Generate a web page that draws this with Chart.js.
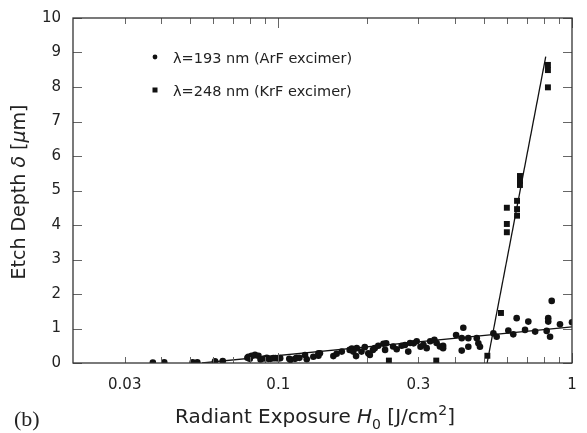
<!DOCTYPE html>
<html><head><meta charset="utf-8">
<script src="https://cdn.jsdelivr.net/npm/chart.js@4.4.0/dist/chart.umd.min.js"></script>
<style>html,body{margin:0;padding:0;background:#fff;}#wrap{width:587px;height:433px;position:relative}</style>
</head><body><div id="wrap"><canvas id="c" width="587" height="433"></canvas></div>
<script>
// ---- data ----
const arfX = [0.0374,0.0409,0.0511,0.053,0.0609,0.0647,
  0.0785,0.0791,0.0811,0.0833,0.080,0.0856,0.087,0.0894,0.0914,0.0925,0.0941,0.0962,0.0978,0.100,0.1015,0.109,0.11,0.114,0.1154,0.118,0.1233,0.125,0.1316,0.137,0.137,0.1386,
  0.154,0.158,0.1645,0.175,0.178,0.18,0.184,0.185,0.192,0.197,0.2025,0.205,0.21,0.213,0.219,0.228,0.231,0.233,0.246,0.253,0.263,0.27,
  0.277,0.281,0.289,0.296,0.305,0.312,0.32,0.329,0.34,0.346,0.355,0.364,0.364,
  0.403,0.4213,0.4265,0.4213,0.4436,0.4436,0.474,0.48,0.486,
  0.54,0.554,0.607,0.631,0.648,0.692,0.71,0.749,0.82,0.83,0.83,0.842,0.853,0.91,1.0];
const arfY = [0.01,0.02,0.02,0.02,0.05,0.06,
  0.15,0.18,0.21,0.24,0.12,0.21,0.10,0.13,0.15,0.12,0.12,0.14,0.14,0.13,0.14,0.12,0.09,0.12,0.15,0.15,0.23,0.11,0.18,0.21,0.28,0.28,
  0.20,0.27,0.33,0.38,0.42,0.33,0.20,0.43,0.33,0.46,0.28,0.23,0.38,0.43,0.50,0.56,0.38,0.57,0.48,0.40,0.50,0.52,
  0.33,0.58,0.57,0.63,0.47,0.53,0.43,0.63,0.67,0.58,0.48,0.50,0.43,
  0.81,0.72,1.02,0.36,0.72,0.47,0.72,0.57,0.47,
  0.86,0.76,0.94,0.83,1.30,0.96,1.20,0.91,0.93,1.30,1.20,0.76,1.80,1.12,1.18];
const krfX = [0.238,0.345,0.515,0.573,0.60,0.60,0.60,0.65,0.65,0.65,0.665,0.665,0.665,0.828,0.828,0.828];
const krfY = [0.07,0.07,0.21,1.45,4.50,4.03,3.79,4.70,4.46,4.27,5.42,5.28,5.16,8.64,8.49,7.99];
const arfFitX = [0.055, 1.0];
const arfFitY = [0, 1.05];
const krfFitX = [0.514, 0.814];
const krfFitY = [0, 8.88];
const xTickValues = [0.03,0.04,0.05,0.06,0.07,0.08,0.09,0.1,0.2,0.3,0.4,0.5,0.6,0.7,0.8,0.9,1];
const xTickLabels = ['0.03','0.1','0.3','1'];
const xMajor = [0.1, 1];
const yTickValues = [0,1,2,3,4,5,6,7,8,9,10];
const legendLabels = ['\u03bb=193 nm (ArF excimer)', '\u03bb=248 nm (KrF excimer)'];

const FONT = '"DejaVu Sans", sans-serif';
const INK = '#222';
function pts(xs, ys){ return xs.map((x,i)=>({x:x, y:ys[i]})); }

function richText(ctx, segs, size){
  const fontFor = (st)=>{
    if (st==='i') return 'italic '+size+'px '+FONT;
    if (st==='sub'||st==='sup') return Math.round(size*0.7)+'px '+FONT;
    return size+'px '+FONT;
  };
  let w=0; segs.forEach(s=>{ctx.font=fontFor(s[1]); w+=ctx.measureText(s[0]).width;});
  return {w:w, draw:(x0,y0)=>{ let x=x0; segs.forEach(s=>{ ctx.font=fontFor(s[1]);
      let dy=0; if(s[1]==='sub') dy=size*0.28; if(s[1]==='sup') dy=-size*0.38;
      ctx.fillText(s[0], x, y0+dy); x+=ctx.measureText(s[0]).width; }); }};
}

const decor = {
  id:'decor',
  afterDraw(chart){
    const ctx = chart.ctx, a = chart.chartArea, xs = chart.scales.x, ys = chart.scales.y;
    ctx.save();
    ctx.strokeStyle = '#666'; ctx.lineWidth = 1;
    ctx.beginPath();
    xs.ticks.forEach(t=>{
      const px = Math.round(xs.getPixelForValue(t.value))+0.5;
      const L = xMajor.includes(t.value) ? 10 : 6;
      ctx.moveTo(px, a.bottom); ctx.lineTo(px, a.bottom-L);
      ctx.moveTo(px, a.top); ctx.lineTo(px, a.top+L);
    });
    ys.ticks.forEach(t=>{
      const py = Math.round(ys.getPixelForValue(t.value))+0.5;
      ctx.moveTo(a.left, py); ctx.lineTo(a.left+9, py);
      ctx.moveTo(a.right, py); ctx.lineTo(a.right-9, py);
    });
    ctx.stroke();
    ctx.strokeStyle = '#333'; ctx.lineWidth = 1.3;
    ctx.strokeRect(a.left, a.top, a.right-a.left, a.bottom-a.top);
    ctx.fillStyle = INK; ctx.textBaseline = 'alphabetic';
    const xt = richText(ctx, [['Radiant Exposure ','n'],['H','i'],['0','sub'],[' [J/cm','n'],['2','sup'],[']','n']], 20);
    xt.draw(315 - xt.w/2, 423);
    ctx.save();
    ctx.translate(25, 192); ctx.rotate(-Math.PI/2);
    const yt = richText(ctx, [['Etch Depth ','n'],['\u03b4','i'],[' [','n'],['\u03bc','i'],['m]','n']], 19);
    yt.draw(-yt.w/2, 0);
    ctx.restore();
    ctx.font = '22px "Liberation Serif", serif';
    ctx.fillText('(b)', 14, 426);
    ctx.font = '14.5px '+FONT;
    const ly = [57, 90];
    chart.data.datasets.slice(0,2).forEach((ds,i)=>{
      ctx.fillStyle = '#111';
      if (ds.pointStyle==='rect'){ ctx.fillRect(152.5, ly[i]-2.5, 5, 5); }
      else { ctx.beginPath(); ctx.arc(155, ly[i], 2.4, 0, Math.PI*2); ctx.fill(); }
      ctx.fillStyle = INK;
      ctx.fillText(legendLabels[i], 173, ly[i]+6);
    });
    ctx.restore();
  }
};

new Chart(document.getElementById('c'), {
  type:'scatter',
  data:{ datasets:[
    {label:legendLabels[0], data:pts(arfX,arfY), pointStyle:'circle', pointRadius:3.3, backgroundColor:'#111', borderWidth:0},
    {label:legendLabels[1], data:pts(krfX,krfY), pointStyle:'rect', pointRadius:4.2, backgroundColor:'#111', borderWidth:0},
    {type:'line', data:pts(arfFitX,arfFitY), borderColor:'#111', borderWidth:1.3, pointRadius:0, fill:false},
    {type:'line', data:pts(krfFitX,krfFitY), borderColor:'#111', borderWidth:1.3, pointRadius:0, fill:false}
  ]},
  options:{
    responsive:false, animation:false, devicePixelRatio:1,
    layout:{padding:{left:0, right:15, top:18, bottom:0}},
    plugins:{legend:{display:false}, tooltip:{enabled:false}},
    scales:{
      x:{ type:'logarithmic', min:0.02, max:1,
        afterBuildTicks(s){ s.ticks = xTickValues.map(v=>({value:v})); },
        afterFit(s){ s.height = 70; s.paddingLeft = 0; s.paddingRight = 0; },
        grid:{display:false, drawTicks:false}, border:{display:false},
        ticks:{ autoSkip:false, maxRotation:0, padding:13, color:INK, font:{family:FONT, size:15},
          callback(v){ const i = xTickLabels.map(Number).indexOf(Number(v)); return i>=0 ? xTickLabels[i] : ''; } }
      },
      y:{ min:0, max:10,
        afterBuildTicks(s){ s.ticks = yTickValues.map(v=>({value:v})); },
        afterFit(s){ s.width = 73; s.paddingTop = 0; s.paddingBottom = 0; },
        grid:{display:false, drawTicks:false}, border:{display:false},
        ticks:{ padding:12, color:INK, font:{family:FONT, size:15}, callback(v){ return String(v); } }
      }
    }
  },
  plugins:[decor]
});
</script></body></html>
